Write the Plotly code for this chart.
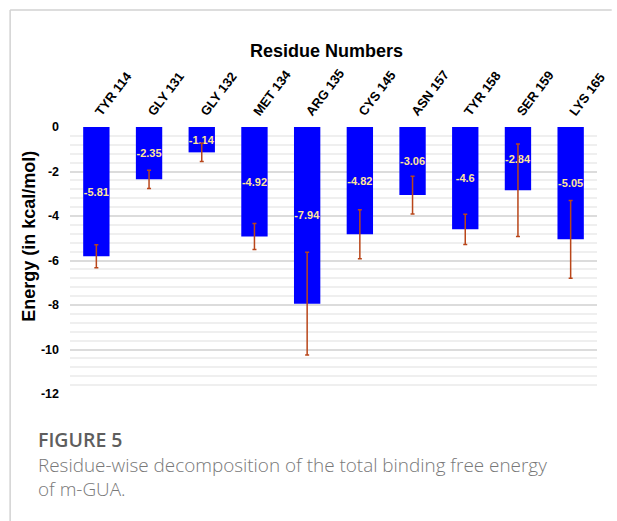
import plotly.graph_objects as go

# Per-residue energy contributions (kcal/mol) and their standard deviations
residues = ["TYR 114", "GLY 131", "GLY 132", "MET 134", "ARG 135",
            "CYS 145", "ASN 157", "TYR 158", "SER 159", "LYS 165"]
energy = [-5.81, -2.35, -1.14, -4.92, -7.94, -4.82, -3.06, -4.6, -2.84, -5.05]
energy_sd = [0.52, 0.41, 0.41, 0.58, 2.31, 1.10, 0.85, 0.68, 2.08, 1.75]
y_ticks = [0, -2, -4, -6, -8, -10, -12]

W, H = 617, 521
L, R, T, B = 70, 10, 127, 127
PW, PH = W - L - R, H - T - B


def px(x):
    return (x - L) / PW


def py(y):
    return (H - B - y) / PH


ARIAL = "Liberation Sans, Arial, sans-serif"
CAPTION = "Open Sans, Lato, sans-serif"

fig = go.Figure()
fig.add_trace(go.Bar(
    x=residues,
    y=energy,
    marker=dict(color="#0000FF", line=dict(width=0)),
    error_y=dict(type="data", array=energy_sd, visible=True,
                 color="#B9461A", thickness=1.5, width=2),
    text=[str(v) for v in energy],
    textposition="inside",
    insidetextanchor="middle",
    textangle=0,
    textfont=dict(family=ARIAL, size=11, color="#FFE699", weight="bold"),
    cliponaxis=False,
))

fig.update_layout(
    width=W, height=H,
    margin=dict(l=L, r=R, t=T, b=B, pad=0),
    paper_bgcolor="white",
    plot_bgcolor="white",
    showlegend=False,
    bargap=0.5,
    uniformtext=dict(minsize=11, mode="show"),
    font=dict(family=ARIAL, color="black"),
    xaxis=dict(
        side="top",
        tickangle=-53,
        tickfont=dict(family=ARIAL, size=13, color="black", weight="bold"),
        showgrid=False, zeroline=False, showline=False, ticks="",
        ticklabelstandoff=4,
    ),
    yaxis=dict(
        range=[-12, 0],
        tickvals=y_ticks,
        ticktext=[str(v) for v in y_ticks],
        tickfont=dict(family=ARIAL, size=12.5, color="black", weight="bold"),
        showgrid=True, gridcolor="#DCDCDC", gridwidth=1.5,
        minor=dict(dtick=0.4, showgrid=True, gridcolor="#EFEFEF", gridwidth=1.5),
        zeroline=False, showline=False, ticks="",
        ticklabelstandoff=10,
    ),
)

annotations = [
    dict(text="<b>Residue Numbers</b>", x=px(331), y=py(50.5),
         xanchor="center", yanchor="middle",
         font=dict(family=ARIAL, size=18, color="black")),
    dict(text="<b>Energy (in kcal/mol)</b>", x=px(28), y=py(236),
         xanchor="center", yanchor="middle", textangle=-90,
         font=dict(family=ARIAL, size=18, color="black")),
    dict(text="FIGURE 5", x=px(35), y=py(439),
         xanchor="left", yanchor="middle",
         font=dict(family=CAPTION, size=19.5, color="#5E5E5E", weight=600)),
    dict(text="Residue-wise decomposition of the total binding free energy",
         x=px(35), y=py(465), xanchor="left", yanchor="middle",
         font=dict(family=CAPTION, size=18.9, color="#787878", weight=300)),
    dict(text="of m-GUA.", x=px(35), y=py(489), xanchor="left", yanchor="middle",
         font=dict(family=CAPTION, size=18.9, color="#787878", weight=300)),
]
for a in annotations:
    a.update(xref="paper", yref="paper", showarrow=False)
fig.update_layout(annotations=annotations)

# Card frame: top and left rules
frame = dict(type="line", xref="paper", yref="paper",
             line=dict(color="#D2D2D2", width=1.5), layer="above")
fig.add_shape(**frame, x0=px(9), x1=px(W + 5), y0=py(10), y1=py(10))
fig.add_shape(**frame, x0=px(9), x1=px(9), y0=py(10), y1=py(H + 5))

fig.write_html("out.html")
